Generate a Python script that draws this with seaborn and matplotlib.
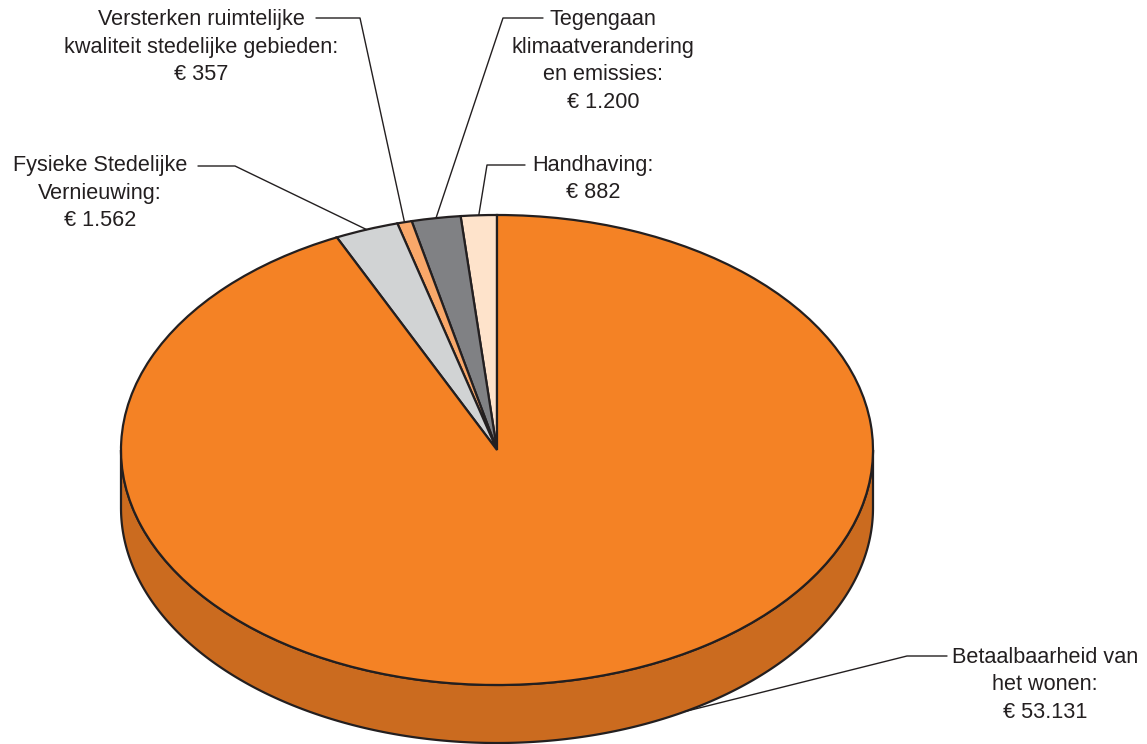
import numpy as np
import matplotlib
matplotlib.use('Agg')
import matplotlib.pyplot as plt
import matplotlib.transforms as mtransforms
from matplotlib.patches import Polygon
import seaborn as sns

# data (starting at 12 o'clock, counter clockwise)
labels = ['Handhaving:\n€ 882',
          'Tegengaan\nklimaatverandering\nen emissies:\n€ 1.200',
          'Versterken ruimtelijke\nkwaliteit stedelijke gebieden:\n€ 357',
          'Fysieke Stedelijke\nVernieuwing:\n€ 1.562',
          'Betaalbaarheid van\nhet wonen:\n€ 53.131']
values = [882, 1200, 357, 1562, 53131]
colors = ['#FEE3CB', '#808184', '#F9A86A', '#D1D3D4', '#F48225']
side_color = '#CB6B1F'

sns.set_theme(style='white')
plt.rcParams['font.family'] = ['Liberation Sans', 'DejaVu Sans']

W, H = 1147, 744
fig = plt.figure(figsize=(W / 100, H / 100), dpi=100)
ax = fig.add_axes([0, 0, 1, 1])

cx, cy, R = 497, H - 450, 376
k = 0.625          # vertical squash of the tilted pie
depth = 58
edge = '#231F20'

# side of the "3D" pie (front half only, all Betaalbaarheid)
t = np.linspace(np.pi, 2 * np.pi, 300)
top = np.column_stack([cx + R * np.cos(t), cy + k * R * np.sin(t)])
bot = top[::-1] - [0, depth]
ax.add_patch(Polygon(np.vstack([top, bot]), closed=True, facecolor=side_color,
                     edgecolor=edge, linewidth=1.6, zorder=1))

wedges, _ = ax.pie(values, colors=colors, startangle=90, counterclock=True,
                   center=(cx, cy), radius=R,
                   wedgeprops=dict(edgecolor=edge, linewidth=1.6))
squash = mtransforms.Affine2D().translate(-cx, -cy).scale(1, k).translate(cx, cy)
for w in wedges:
    w.set_transform(squash + ax.transData)
    w.set_zorder(2)

# mid angles of each slice
frac = np.array(values) / np.sum(values)
mids = 90 + (np.cumsum(frac) - frac / 2) * 360

# label layout: (text x, text y, elbow x, line start x, line y) in pixels from top
layout = [
    (593, 179, 487, 525, 165),
    (603, 61, 503, 543, 18),
    (201, 47, 360, 316, 18),
    (100, 193, 235, 198, 166),
    (1045, 685, 907, 947, 656),
]

for i, (lab, (tx, ty, ex, sx, ly)) in enumerate(zip(labels, layout)):
    ax.text(tx, H - ty, lab, ha='center', va='center', multialignment='center',
            fontsize=15.6, color='#231F20', linespacing=1.42, zorder=5)
    if i == len(labels) - 1:
        a = np.deg2rad(-60)
        axp, ayp = cx + R * np.cos(a), cy + k * R * np.sin(a) - depth
    else:
        a = np.deg2rad(mids[i])
        axp, ayp = cx + R * np.cos(a), cy + k * R * np.sin(a)
    ax.plot([sx, ex, axp], [H - ly, H - ly, ayp], color=edge, lw=1.0, zorder=4)

ax.set_xlim(0, W)
ax.set_ylim(0, H)
ax.set_aspect('equal')
ax.axis('off')

plt.savefig('out.png', dpi=100)
